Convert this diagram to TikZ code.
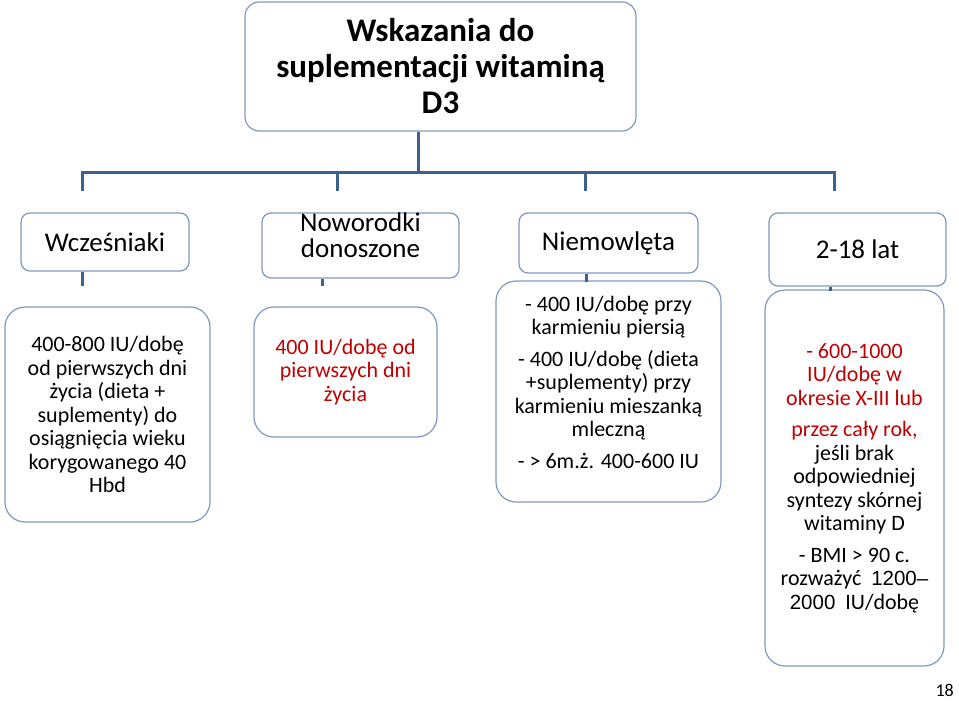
\documentclass[tikz,border=0pt]{standalone}
\usepackage{fontspec}
\setmainfont{Carlito}
\newfontfamily\arialfont{Liberation Sans}
\usepackage{xcolor}
\definecolor{linkblue}{RGB}{62,96,140}
\definecolor{boxblue}{RGB}{124,152,192}
\definecolor{darkred}{RGB}{192,0,0}
\tikzset{link/.style={draw=linkblue, line width=3pt}}
\newcommand{\rd}[1]{\textcolor{darkred}{#1}}

\begin{document}
\begin{tikzpicture}[x=1pt, y=-1pt, box/.style = {draw=boxblue, line width=1.2pt, rounded corners=9pt, align=center, inner sep=0pt, font=\fontsize{22}{23.5}\selectfont}, head/.style = {box, font=\fontsize{27}{26}\selectfont}, info/.style = {box, rounded corners=20pt}]
\useasboundingbox (0,0) rectangle (959,701);
% title
\node[box, rounded corners=14pt, minimum width=391pt, minimum height=129pt, font=\bfseries\fontsize{33}{36}\selectfont] (0) at (440.5,66.5) {Wskazania do\\suplementacji witaminą\\D3};
% groups
\node[head, minimum width=168pt, minimum height=58pt] (1) at (105,242) {Wcześniaki};
\node[head, text depth=20pt, minimum width=197pt, minimum height=65pt] (2) at (360.5,245.5) {Noworodki\\donoszone};
\node[head, minimum width=179pt, minimum height=60pt] (3) at (608.5,243) {Niemowlęta};
\node[head, minimum width=177pt, minimum height=73pt] (4) at (857.5,249.5) {2-18 lat};
% doses
\node[info, minimum width=205pt, minimum height=215pt] (5) at (107.5,414.5) {400-800 IU/dobę\\od pierwszych dni\\życia (dieta +\\suplementy) do\\osiągnięcia wieku\\korygowanego 40\\Hbd};
\node[info, text=darkred, minimum width=183pt, minimum height=130pt] (6) at (345.5,372) {400 IU/dobę od\\pierwszych dni\\życia};
\node[info, text depth=19pt, minimum width=225pt, minimum height=221pt] (7) at (608.5,391.5) {- 400 IU/dobę przy\\karmieniu piersią\\[8pt]- 400 IU/dobę (dieta\\+suplementy) przy\\karmieniu mieszanką\\mleczną\\[8pt]- > 6m.ż. 400-600 IU};
\node[info, minimum width=179pt, minimum height=376pt] (8) at (854.5,478) {\rd{- 600-1000}\\\rd{IU/dobę w}\\\rd{okresie X-III lub}\\[8pt]\rd{przez cały rok,}\\jeśli brak\\odpowiedniej\\syntezy skórnej\\witaminy D\\[8pt]- BMI > 90 c.\\rozważyć~ {\arialfont\fontsize{20.5}{20}\selectfont 1200–}\\{\arialfont\fontsize{20.5}{20}\selectfont 2000}~ IU/dobę};
\node[font=\fontsize{18}{20}\selectfont, anchor=north east, inner sep=0pt] (p) at (954,684) {18};
% connectors
\coordinate (j0) at (418,172);
\draw[link] (0.south -| j0) -- (j0);
\draw[link] ([xshift=-23pt,yshift=21pt]1.north) |- (j0);
\draw[link] ([xshift=-23pt,yshift=21pt]2.north) |- (j0);
\draw[link] ([xshift=-23pt,yshift=21pt]3.north) |- (j0);
\draw[link] ([xshift=-23pt,yshift=21pt]4.north) |- (j0);
\draw[link] ([xshift=-23pt]1.south) -- ++(0,14);
\draw[link] ([xshift=-38pt]2.south) -- ++(0,7);
\draw[link] ([xshift=-22pt]3.south) -- ++(0,8);
\draw[link] ([xshift=-27pt]4.south) -- ++(0,4);
\end{tikzpicture}
\end{document}
